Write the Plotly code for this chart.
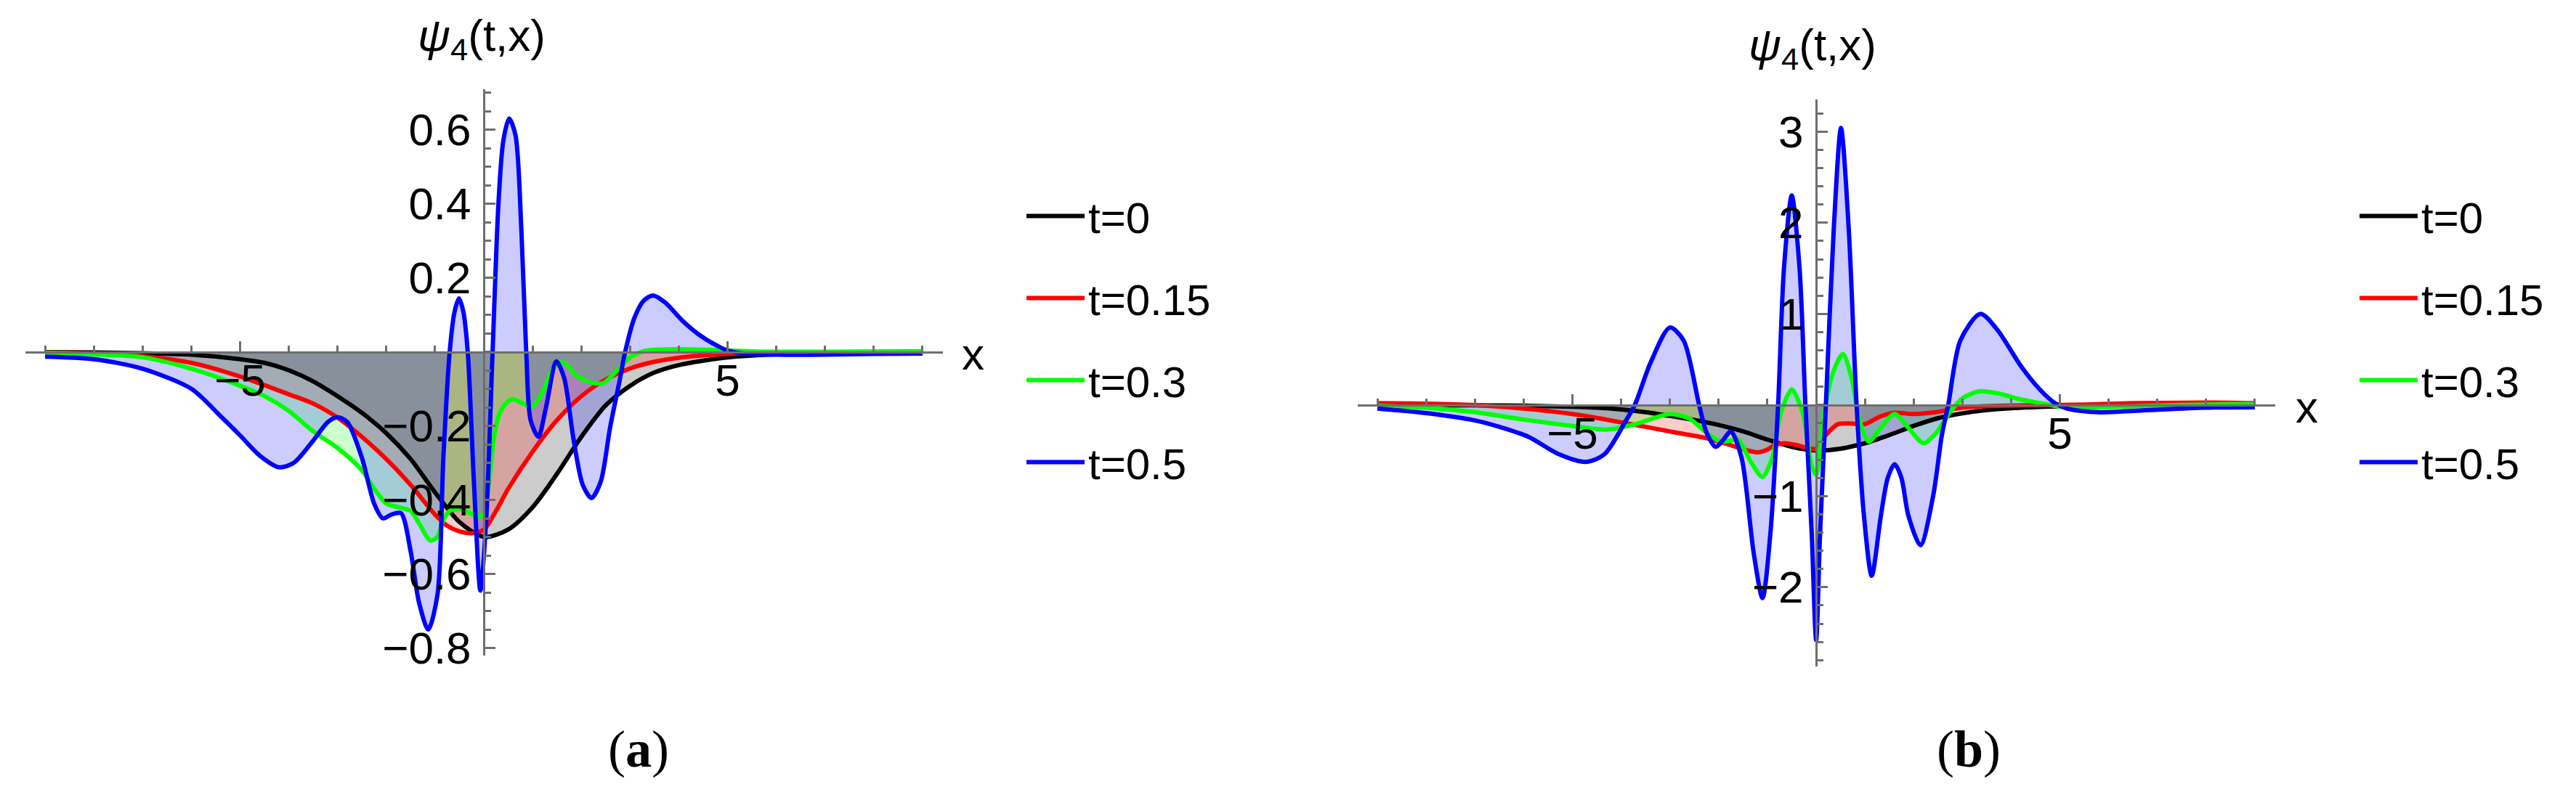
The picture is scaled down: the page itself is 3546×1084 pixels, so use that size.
import plotly.graph_objects as go

# ---------------- data ----------------
# t = 0 (same initial profile in both panels)
x_t0 = [-9, -8, -7, -6, -5, -4.5, -4, -3.5, -3, -2.5, -2, -1.5, -1, -0.5, 0,
        0.5, 1, 1.5, 2, 2.5, 3, 3.5, 4, 4.5, 5, 6, 7, 8, 9]
psi_t0 = [-0.001, -0.002, -0.004, -0.008, -0.02, -0.03, -0.05, -0.08, -0.12, -0.165, -0.22, -0.29,
          -0.38, -0.46, -0.5, -0.48, -0.42, -0.33, -0.23, -0.145, -0.092, -0.056, -0.036, -0.024,
          -0.015, -0.007, -0.003, -0.001, 0]

# panel (a)
xa_t015 = [-9, -8, -7, -6, -5, -4, -3.5, -3, -2.5, -2, -1.5, -1, -0.75, -0.5, -0.25, 0, 0.25,
           0.5, 1, 1.5, 2, 2.5, 3, 3.5, 4, 5, 6, 7, 8, 9]
ya_t015 = [-0.002, -0.005, -0.012, -0.03, -0.067, -0.115, -0.14, -0.178, -0.23, -0.29, -0.36,
           -0.44, -0.47, -0.485, -0.49, -0.48, -0.43, -0.37, -0.27, -0.185, -0.12, -0.075, -0.045,
           -0.027, -0.016, -0.006, -0.002, -0.001, 0, 0]

xa_t03 = [-9, -8, -7, -6, -5, -4.5, -4, -3.5, -3, -2.5, -2.25, -2, -1.75, -1.5, -1.3, -1.1, -0.95,
          -0.85, -0.7, -0.5, -0.3, -0.1, 0, 0.1, 0.2, 0.3, 0.45, 0.6, 0.8, 1.0, 1.2, 1.4, 1.55, 1.7,
          1.9, 2.2, 2.45, 2.7, 3.0, 3.3, 3.6, 4, 4.7, 5.5, 6.5, 9]
ya_t03 = [-0.003, -0.007, -0.015, -0.046, -0.092, -0.12, -0.16, -0.215, -0.26, -0.32, -0.37, -0.41,
          -0.42, -0.43, -0.47, -0.51, -0.5, -0.46, -0.43, -0.425, -0.435, -0.445, -0.44, -0.36,
          -0.24, -0.175, -0.14, -0.128, -0.14, -0.148, -0.11, -0.05, -0.027, -0.035, -0.065, -0.083,
          -0.085, -0.055, -0.015, 0.002, 0.006, 0.007, 0.005, 0.001, 0, 0]

xa_t05 = [-9, -8, -7, -6, -5.4, -5, -4.6, -4.2, -3.9, -3.5, -3.2, -3.0, -2.8, -2.5, -2.25, -2.07,
          -1.9, -1.7, -1.5, -1.33, -1.14, -0.95, -0.83, -0.7, -0.6, -0.51, -0.42, -0.33, -0.2,
          -0.07, 0.05, 0.18, 0.3, 0.4, 0.52, 0.65, 0.77, 0.87, 0.96, 1.12, 1.27, 1.49, 1.65, 1.84,
          2.03, 2.21, 2.4, 2.59, 2.78, 2.9, 3.09, 3.28, 3.47, 3.72, 4.09, 4.47, 4.85, 5.03, 5.35,
          6, 7, 8, 9]
ya_t05 = [-0.013, -0.02, -0.046, -0.10, -0.174, -0.226, -0.28, -0.312, -0.30, -0.24, -0.19,
          -0.177, -0.19, -0.287, -0.41, -0.45, -0.44, -0.436, -0.54, -0.677, -0.75, -0.656,
          -0.287, 0, 0.108, 0.144, 0.108, 0, -0.36, -0.645, -0.45, 0, 0.4, 0.57, 0.63, 0.585,
          0.33, 0, -0.185, -0.23, -0.154, -0.026, -0.072, -0.236, -0.36, -0.395, -0.35, -0.205,
          -0.082, 0, 0.092, 0.138, 0.152, 0.133, 0.082, 0.041, 0.012, 0.002, -0.005, -0.008,
          -0.008, -0.006, -0.005]

# panel (b)
xb_t015 = [-9, -8, -7, -6, -5, -4, -3.4, -2.8, -2.2, -1.7, -1.4, -1.2, -1.0, -0.85, -0.65, -0.4,
           -0.2, 0, 0.2, 0.45, 0.75, 1.0, 1.3, 1.6, 2.0, 2.45, 2.85, 3.2, 3.7, 4.5, 5.5, 6.5, 7.5,
           8.5, 9]
yb_t015 = [0.02, 0.015, 0.0, -0.04, -0.10, -0.19, -0.25, -0.31, -0.37, -0.45, -0.5, -0.52, -0.49,
           -0.44, -0.42, -0.44, -0.47, -0.48, -0.33, -0.21, -0.205, -0.21, -0.13, -0.085, -0.1,
           -0.08, -0.04, -0.02, -0.01, -0.003, 0.005, 0.02, 0.025, 0.025, 0.02]

xb_t03 = [-9, -8, -7, -6, -5, -4.3, -3.7, -3.3, -3.0, -2.6, -2.28, -1.97, -1.75, -1.6, -1.34, -1.1,
          -0.9, -0.72, -0.5, -0.28, -0.09, 0, 0.14, 0.33, 0.55, 0.73, 0.89, 1.08, 1.33, 1.61, 1.89,
          2.2, 2.46, 2.77, 3.02, 3.34, 3.71, 4.21, 4.71, 5.03, 5.5, 6.5, 7.5, 8.5, 9]
yb_t03 = [-0.01, -0.03, -0.08, -0.16, -0.23, -0.27, -0.21, -0.14, -0.1, -0.15, -0.29, -0.40, -0.39,
          -0.38, -0.625, -0.79, -0.58, -0.08, 0.17, -0.08, -0.67, -0.77, -0.17, 0.33, 0.56, 0.29,
          -0.17, -0.4, -0.25, -0.1, -0.25, -0.42, -0.31, -0.06, 0.08, 0.15, 0.13, 0.06, 0.01,
          -0.02, -0.025, -0.015, 0.0, 0.01, 0.01]

xb_t05 = [-9, -8, -7, -6.5, -5.9, -5.28, -4.72, -4.34, -3.9, -3.72, -3.4, -3.0, -2.72, -2.4, -2.25,
          -2.06, -1.9, -1.75, -1.53, -1.28, -1.1, -0.94, -0.78, -0.66, -0.5, -0.34, -0.22, -0.09,
          0, 0.08, 0.2, 0.36, 0.51, 0.67, 0.83, 0.98, 1.14, 1.33, 1.47, 1.61, 1.75, 1.89, 2.14,
          2.4, 2.58, 2.71, 2.96, 3.37, 3.71, 4.21, 4.59, 4.9, 5.15, 5.78, 6.7, 7.97, 9]
yb_t05 = [-0.04, -0.09, -0.17, -0.24, -0.35, -0.54, -0.625, -0.54, -0.17, 0, 0.46, 0.85, 0.71, 0,
          -0.3, -0.46, -0.38, -0.29, -0.58, -1.63, -2.12, -1.42, 0, 1.5, 2.3, 1.5, 0, -1.42,
          -2.58, -1.42, 0, 1.92, 3.04, 1.92, 0, -1.21, -1.875, -1.21, -0.8, -0.65, -0.8, -1.21,
          -1.54, -1.0, -0.33, 0, 0.71, 1.0, 0.83, 0.42, 0.17, 0.02, -0.04, -0.08, -0.06, -0.03,
          -0.025]

labels = ["t=0", "t=0.15", "t=0.3", "t=0.5"]
line_colors = ["#000000", "#ff0000", "#00ff00", "#0000ff"]
fill_colors = ["rgba(0,0,0,0.2)", "rgba(255,0,0,0.2)", "rgba(0,255,0,0.2)", "rgba(0,0,255,0.2)"]

xa_ticks = [-5, 5]
ya_ticks = [-0.8, -0.6, -0.4, -0.2, 0.2, 0.4, 0.6]
yb_ticks = [-2, -1, 1, 2, 3]

# ---------------- layout geometry (pixels) ----------------
W, H = 3546, 1084
AX = "#6e6e6e"
FONT = "Liberation Sans, Arial, sans-serif"
FS = 62

panels = {
    "a": dict(x0=658, xu=67.1, xr=[-9.4, 9.42], y0=476.5, yu=510.0, yr=[-0.82, 0.708]),
    "b": dict(x0=2492, xu=67.1, xr=[-9.4, 9.42], y0=549.8, yu=125.5, yr=[-2.87, 3.35]),
}


def geom(p):
    left = p["x0"] + p["xr"][0] * p["xu"]
    right = p["x0"] + p["xr"][1] * p["xu"]
    top = p["y0"] - p["yr"][1] * p["yu"]
    bottom = p["y0"] - p["yr"][0] * p["yu"]
    return ([left / W, right / W], [1 - bottom / H, 1 - top / H],
            1 - p["y0"] / H, p["x0"] / W)


def fmt(v):
    s = ("%g" % abs(v))
    return ("\u2212" + s) if v < 0 else s


fig = go.Figure()

series_a = [(x_t0, psi_t0), (xa_t015, ya_t015), (xa_t03, ya_t03), (xa_t05, ya_t05)]
series_b = [(x_t0, psi_t0), (xb_t015, yb_t015), (xb_t03, yb_t03), (xb_t05, yb_t05)]

for series, xa, ya, leg in [(series_a, "x", "y", "legend"), (series_b, "x2", "y2", "legend2")]:
    for (xs, ys), fc in zip(series, fill_colors):
        fig.add_trace(go.Scatter(x=xs, y=ys, mode="lines", xaxis=xa, yaxis=ya,
                                 line=dict(width=0, shape="spline", smoothing=0.8),
                                 fill="tozeroy", fillcolor=fc, showlegend=False,
                                 hoverinfo="skip"))
    for i, ((xs, ys), lc, lab) in enumerate(zip(series, line_colors, labels)):
        fig.add_trace(go.Scatter(x=xs, y=ys, mode="lines", xaxis=xa, yaxis=ya, name=lab,
                                 line=dict(color=lc, width=6, shape="spline", smoothing=0.8),
                                 legend=leg, legendgroup=leg + str(i)))

dom = {k: geom(v) for k, v in panels.items()}


def xaxis_cfg(k):
    xd, yd, xpos, ypos = dom[k]
    return dict(domain=xd, range=panels[k]["xr"], anchor="free", position=xpos,
                showline=True, linecolor=AX, linewidth=3, showgrid=False, zeroline=False,
                ticks="inside", ticklen=14, tickwidth=3, tickcolor=AX,
                tickmode="array", tickvals=xa_ticks, ticktext=[fmt(v) for v in xa_ticks],
                tickfont=dict(family=FONT, size=FS, color="black"), ticklabelstandoff=-16,
                minor=dict(ticks="inside", tickmode="linear", tick0=0, dtick=1, ticklen=8,
                           tickwidth=3, tickcolor=AX, showgrid=False),
                automargin=False, fixedrange=True)


def yaxis_cfg(k, tv, mdt):
    xd, yd, xpos, ypos = dom[k]
    return dict(domain=yd, range=panels[k]["yr"], anchor="free", position=ypos, side="left",
                showline=True, linecolor=AX, linewidth=3, showgrid=False, zeroline=False,
                ticks="inside", ticklen=14, tickwidth=3, tickcolor=AX,
                tickmode="array", tickvals=tv, ticktext=[fmt(v) for v in tv],
                tickfont=dict(family=FONT, size=FS, color="black"), ticklabelstandoff=4,
                minor=dict(ticks="inside", tickmode="linear", tick0=0, dtick=mdt, ticklen=8,
                           tickwidth=3, tickcolor=AX, showgrid=False),
                automargin=False, fixedrange=True)


legend_common = dict(xanchor="left", yanchor="top", bgcolor="rgba(0,0,0,0)", borderwidth=0,
                     font=dict(family=FONT, size=60, color="black"), tracegroupgap=32,
                     itemwidth=80)

fig.update_layout(
    width=W, height=H, margin=dict(l=0, r=0, t=0, b=0),
    paper_bgcolor="white", plot_bgcolor="white", template="none",
    font=dict(family=FONT, size=FS, color="black"),
    xaxis=xaxis_cfg("a"), yaxis=yaxis_cfg("a", ya_ticks, 0.05),
    xaxis2=xaxis_cfg("b"), yaxis2=yaxis_cfg("b", yb_ticks, 0.2),
    legend=dict(x=1400 / W, y=1 - 244 / H, **legend_common),
    legend2=dict(x=3235 / W, y=1 - 244 / H, **legend_common),
    showlegend=True,
)

ann = []
for xc, yc in [(655, 45), (2487, 58)]:
    ann.append(dict(text="<i>ψ</i><sub>4</sub>(t,x)", x=xc / W, y=1 - yc / H, xref="paper",
                    yref="paper", showarrow=False, xanchor="center", yanchor="middle",
                    font=dict(family=FONT, size=FS, color="black")))
for xc, yc in [(1331, 479), (3167, 552)]:
    ann.append(dict(text="x", x=xc / W, y=1 - yc / H, xref="paper", yref="paper",
                    showarrow=False, xanchor="center", yanchor="middle",
                    font=dict(family=FONT, size=FS, color="black")))
for txt, xc in [("(<b>a</b>)", 871), ("(<b>b</b>)", 2702)]:
    ann.append(dict(text=txt, x=xc / W, y=1 - 1024 / H, xref="paper", yref="paper",
                    showarrow=False, xanchor="center", yanchor="middle",
                    font=dict(family="Liberation Serif, Times New Roman, serif", size=72,
                              color="black")))
fig.update_layout(annotations=ann)

fig.write_html("out.html")
